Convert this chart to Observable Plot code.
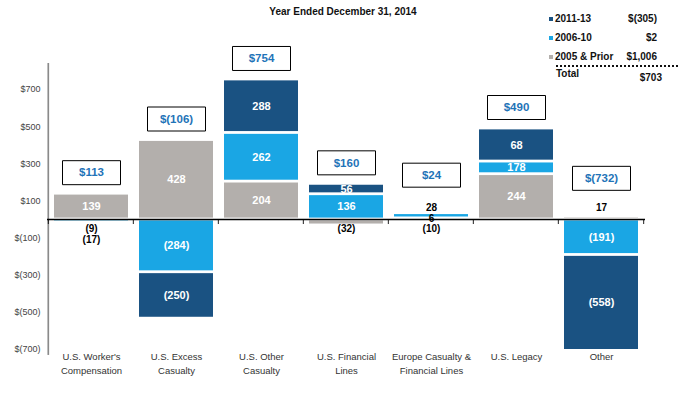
<!DOCTYPE html>
<html>
<head>
<meta charset="utf-8">
<script src="https://cdn.jsdelivr.net/npm/d3@7"></script>
<script src="https://cdn.jsdelivr.net/npm/@observablehq/plot@0.6"></script>
<style>
  body { margin: 0; background: #fff; }
  #wrap { position: relative; width: 678px; height: 396px; font-family: "Liberation Sans", Arial, sans-serif; }
  #title { height: 22px; line-height: 23px; text-align: center; font-weight: bold; font-size: 10px; color: #111; padding-left: 8px; }
  #legend { position: absolute; left: 545px; top: 0; width: 133px; height: 90px; font-weight: bold; font-size: 10px; color: #111; }
  #legend .row { position: absolute; left: 0; width: 112px; height: 14px; line-height: 14px; }
  #legend .sw { position: absolute; left: 4px; top: 5px; width: 4px; height: 4px; }
  #legend .nm { position: absolute; left: 10px; }
  #legend .val { position: absolute; right: 0; }
  #legend .rule { position: absolute; left: 11px; top: 65px; width: 122px; border-top: 2px dotted #111; }
</style>
</head>
<body>
<div id="wrap">
  <div id="title"></div>
  <div id="chart"></div>
  <div id="legend"></div>
</div>
<script>
// ---- data ----
const title = "Year Ended December 31, 2014";
const categories = [
  "U.S. Worker's\nCompensation",
  "U.S. Excess\nCasualty",
  "U.S. Other\nCasualty",
  "U.S. Financial\nLines",
  "Europe Casualty &\nFinancial Lines",
  "U.S. Legacy",
  "Other"
];
const seriesNames = ["2005 & Prior", "2006-10", "2011-13"];
const prior  = [139, 428, 204, -32, 6, 244, 17];
const mid    = [-17, -284, 262, 136, 28, 68, -191];
const recent = [-9, -250, 288, 56, -10, 178, -558];
// data labels as printed in the reference
const priorLabels  = ["139", "428", "204", "(32)", "6", "244", "17"];
const midLabels    = ["(9)", "(284)", "262", "136", "28", "178", "(191)"];
const recentLabels = ["(17)", "(250)", "288", "56", "(10)", "68", "(558)"];
const yTicks = [700, 500, 300, 100, -100, -300, -500, -700];
const colors = ["#b3afac", "#1aa6e4", "#1a5282"];

// ---- helpers ----
const money = v => v < 0 ? `$(${d3.format(",")(-v)})` : `$${d3.format(",")(v)}`;
const series = [
  {name: seriesNames[0], values: prior, labels: priorLabels},
  {name: seriesNames[1], values: mid, labels: midLabels},
  {name: seriesNames[2], values: recent, labels: recentLabels}
];

const rows = [];
const totals = [];
categories.forEach((c, i) => {
  let pos = 0, neg = 0;
  const smallPos = [], smallNeg = [];
  series.forEach(s => {
    const v = s.values[i];
    let y1, y2;
    if (v >= 0) { y1 = pos; y2 = pos + v; pos = y2; } else { y1 = neg; y2 = neg + v; neg = y2; }
    const r = {cat: c, series: s.name, value: v, label: s.labels[i], y1, y2, small: Math.abs(v) < 40};
    rows.push(r);
    if (r.small) (v >= 0 ? smallPos : smallNeg).push(r);
  });
  smallPos.forEach((r, k) => { r.row = (k === smallPos.length - 1) ? -1 : 0; });
  smallNeg.forEach((r, k) => { r.row = k + 1; });
  const sum = series.reduce((a, s) => a + s.values[i], 0);
  totals.push({cat: c, top: pos, total: sum, raised: smallPos.length > 0});
});
const rowOffsets = [[-1, -12], [0, -1], [1, 9], [2, 20]];

// ---- title & legend ----
document.getElementById("title").textContent = title;
const legend = document.getElementById("legend");
[2, 1, 0].forEach((si, k) => {
  const s = series[si];
  const sum = s.values.reduce((a, b) => a + b, 0);
  const row = document.createElement("div");
  row.className = "row";
  row.style.top = (12 + k * 19) + "px";
  row.innerHTML = `<span class="sw" style="background:${colors[si]}"></span><span class="nm"></span><span class="val"></span>`;
  row.querySelector(".nm").textContent = s.name;
  row.querySelector(".val").textContent = money(sum);
  legend.appendChild(row);
});
const rule = document.createElement("div"); rule.className = "rule"; legend.appendChild(rule);
const grand = series.reduce((a, s) => a + s.values.reduce((x, y) => x + y, 0), 0);
const tot = document.createElement("div");
tot.className = "row"; tot.style.top = "67px"; tot.style.width = "117px";
tot.innerHTML = `<span class="nm" style="left:11px">Total</span><span class="val" style="top:4px"></span>`;
tot.querySelector(".val").textContent = money(grand);
legend.appendChild(tot);

// ---- chart ----
const W = 678, H = 374, mL = 47, mR = 33, mT = 41, mB = 47;
const yDomain = [-700, 840];
const padIn = 0.13;
// paddingOuter = paddingInner / 2, so each band's step splits the frame evenly
const step = (W - mL - mR) / categories.length;
const gap = padIn * step, bw = step - gap;
const boxSymbol = { draw(ctx) { ctx.rect(-29, -12, 58, 24); } };

const smallLabelMarks = rowOffsets.map(([row, off]) =>
  Plot.text(rows.filter(r => r.small && r.row === row), {
    x: "cat", y: () => 0, dy: off, text: "label",
    fill: "#000", fontWeight: "bold", fontSize: 10
  })
);

const chart = Plot.plot({
  width: W,
  height: H,
  marginLeft: mL,
  marginRight: mR,
  marginTop: mT,
  marginBottom: mB,
  style: {fontFamily: "'Liberation Sans', Arial, sans-serif", fontSize: "9px", color: "#444", background: "#fff"},
  x: {domain: categories, paddingInner: padIn, paddingOuter: padIn / 2, axis: null},
  y: {domain: yDomain, ticks: yTicks, tickFormat: money, tickSize: 0, tickPadding: 7, label: null},
  color: {domain: seriesNames, range: colors},
  marks: [
    Plot.barY(rows, {x: "cat", y1: "y1", y2: "y2", fill: "series", insetTop: 1.4, insetBottom: 1.4, clip: true}),
    // y-axis line: a 2px sliver at the left edge of the first band
    Plot.barY([categories[0]], {
      x: d => d, y1: () => yDomain[0] - 32, y2: () => yDomain[1],
      insetLeft: -gap / 2 - 1, insetRight: bw + gap / 2 - 1,
      fill: "#8a8a8a"
    }),
    Plot.ruleY([0], {stroke: "#000", strokeWidth: 1.3}),
    // category boundary ticks below the zero line (slivers at band edges)
    Plot.barY(categories, {
      x: d => d, y1: () => 0, y2: () => -27,
      insetLeft: -gap / 2 - 0.6, insetRight: bw + gap / 2 - 0.6, fill: "#000"
    }),
    Plot.barY([categories[categories.length - 1]], {
      x: d => d, y1: () => 0, y2: () => -27,
      insetLeft: bw + gap / 2 - 0.6, insetRight: -gap / 2 - 0.6, fill: "#000"
    }),
    Plot.text(rows.filter(r => !r.small), {
      x: "cat", y: r => (Math.max(r.y1, -700) + Math.max(r.y2, -700)) / 2, text: "label",
      fill: "#fff", fontWeight: "bold", fontSize: 11
    }),
    ...smallLabelMarks,
    Plot.dot(totals.filter(d => !d.raised), {
      x: "cat", y: "top", dy: -21,
      symbol: boxSymbol, fill: "#fff", stroke: "#000", strokeWidth: 1, r: 5
    }),
    Plot.dot(totals.filter(d => d.raised), {
      x: "cat", y: "top", dy: -38,
      symbol: boxSymbol, fill: "#fff", stroke: "#000", strokeWidth: 1, r: 5
    }),
    Plot.text(totals.filter(d => !d.raised), {
      x: "cat", y: "top", dy: -21, text: d => money(d.total),
      fill: "#1f74b8", fontWeight: "bold", fontSize: 11.5
    }),
    Plot.text(totals.filter(d => d.raised), {
      x: "cat", y: "top", dy: -38, text: d => money(d.total),
      fill: "#1f74b8", fontWeight: "bold", fontSize: 11.5
    }),
    Plot.text(categories, {
      x: d => d, frameAnchor: "bottom", lineAnchor: "top", dy: 1, text: d => d,
      fill: "#333", fontSize: 9.5, lineHeight: 1.45
    })
  ]
});
document.getElementById("chart").appendChild(chart);
</script>
</body>
</html>
